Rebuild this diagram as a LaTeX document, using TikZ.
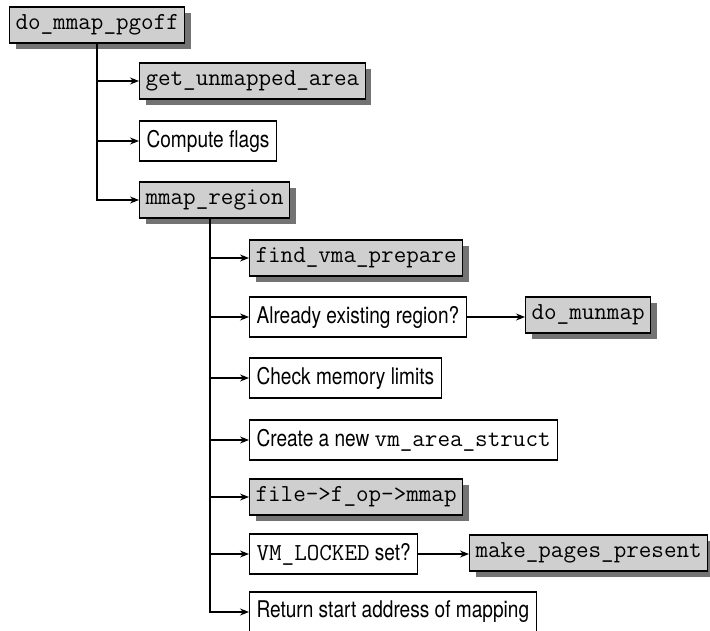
\documentclass[tikz,border=0pt]{standalone}
\usepackage{fontspec}
\setsansfont{TeX Gyre Heros}[FakeStretch=0.83]
\usetikzlibrary{positioning,arrows.meta,shadows}
\tikzset{
  callarrow/.style={-{Stealth[length=9pt, width=7pt, inset=3pt]}, line width=1.1pt},
  trunkline/.style={line width=2.2pt},
  funcnode/.style={draw, line width=1.1pt, fill=black!19, minimum height=36pt, inner xsep=6pt, anchor=west,
    font=\fontsize{24.4}{26}\ttfamily, drop shadow={shadow xshift=6pt, shadow yshift=-6pt, fill=black!55, opacity=1}},
  stepnode/.style={draw, line width=1.1pt, fill=white, minimum height=40pt, inner xsep=7pt, anchor=west,
    font=\fontsize{23}{25}\sffamily}
}
\newcommand{\code}[1]{{\fontsize{24.4}{26}\ttfamily #1}}
\begin{document}
\begin{tikzpicture}[x=1pt, y=-1pt]
  \useasboundingbox (0,0) rectangle (710,631);
  % top level
  \node[funcnode] (pgoff) at (9,25) {do\_mmap\_pgoff};
  \node[funcnode] (unmapped) at (139,81) {get\_unmapped\_area};
  \node[stepnode] (flags) at (139,141) {Compute flags};
  \node[funcnode] (region) at (139,200) {mmap\_region};
  % inside mmap_region
  \node[funcnode] (prepare) at (249,258) {find\_vma\_prepare};
  \node[stepnode] (existing) at (249,317) {Already existing region?};
  \node[funcnode] (munmap) at (525,315) {do\_munmap};
  \node[stepnode] (limits) at (249,378) {Check memory limits};
  \node[stepnode] (newvma) at (249,440) {Create a new \code{vm\_area\_struct}};
  \node[funcnode] (fopmmap) at (249,497) {file->f\_op->mmap};
  \node[stepnode] (locked) at (249,554) {\code{VM\_LOCKED} set?};
  \node[funcnode] (present) at (469,553) {make\_pages\_present};
  \node[stepnode] (retaddr) at (249,612) {Return start address of mapping};
  \coordinate (sub) at (210,218);
  % trunks
  \draw[trunkline] (pgoff.south) -- (pgoff.south |- region.west) -- ++(2,0);
  \draw[trunkline] (sub) -- (sub |- retaddr.west) -- ++(2,0);
  % branches
  \draw[callarrow] (pgoff.south |- unmapped.west) -- (unmapped.west);
  \draw[callarrow] (pgoff.south |- flags.west) -- (flags.west);
  \draw[callarrow] (pgoff.south |- region.west) -- (region.west);
  \foreach \n in {prepare,existing,limits,newvma,fopmmap,locked,retaddr}
    \draw[callarrow] (sub |- \n.west) -- (\n.west);
  \draw[callarrow] (existing.east) -- (munmap.west |- existing.east);
  \draw[callarrow] (locked.east) -- (present.west |- locked.east);
\end{tikzpicture}
\end{document}
